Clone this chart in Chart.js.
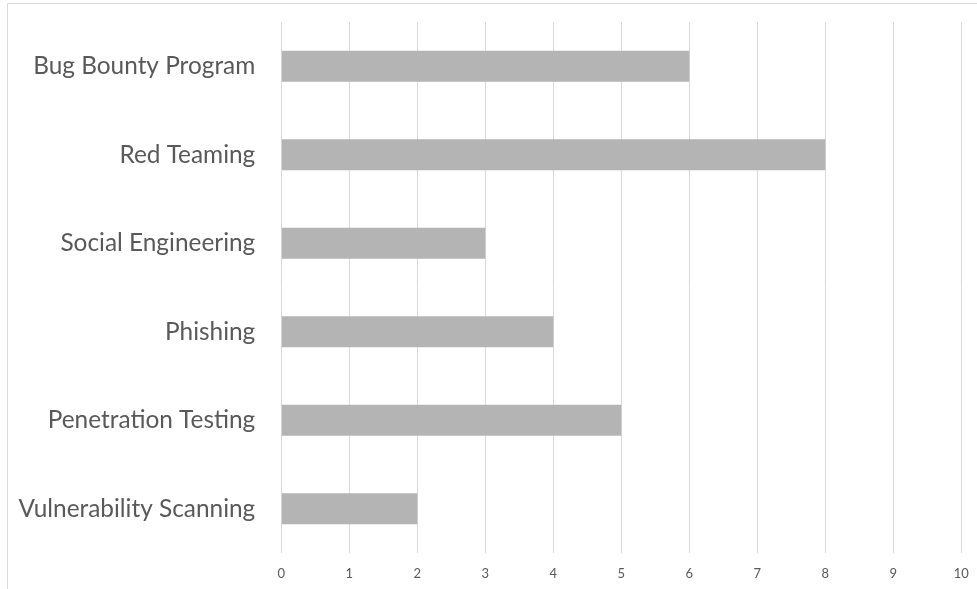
<!DOCTYPE html>
<html>
<head>
<meta charset="utf-8">
<script src="https://cdn.jsdelivr.net/npm/chart.js@4/dist/chart.umd.min.js"></script>
<style>
  html, body { margin: 0; padding: 0; background: #ffffff; }
  #wrap { position: relative; width: 977px; height: 589px; }
</style>
</head>
<body>
<div id="wrap"><canvas id="chart" width="977" height="589"></canvas></div>
<script>
// Security testing activities and their counts
const categories = [
  "Bug Bounty Program",
  "Red Teaming",
  "Social Engineering",
  "Phishing",
  "Penetration Testing",
  "Vulnerability Scanning"
];
const counts = [6, 8, 3, 4, 5, 2];
const axisMin = 0;
const axisMax = 10;
const axisStep = 1;

// Thin frame along the top and left edge of the chart area
const framePlugin = {
  id: 'frame',
  beforeDraw(chart) {
    const ctx = chart.ctx;
    ctx.save();
    ctx.strokeStyle = '#d9d9d9';
    ctx.lineWidth = 1;
    ctx.beginPath();
    ctx.moveTo(7.5, chart.height);
    ctx.lineTo(7.5, 3.5);
    ctx.lineTo(chart.width, 3.5);
    ctx.stroke();
    ctx.restore();
  }
};

new Chart(document.getElementById('chart'), {
  type: 'bar',
  data: {
    labels: categories,
    datasets: [{
      data: counts,
      backgroundColor: '#b4b4b4',
      borderWidth: 0,
      categoryPercentage: 1,
      barPercentage: 0.35
    }]
  },
  options: {
    indexAxis: 'y',
    responsive: false,
    animation: false,
    layout: { padding: { left: 0, right: 15.7, top: 22, bottom: 0 } },
    plugins: {
      legend: { display: false },
      tooltip: { enabled: false }
    },
    scales: {
      x: {
        min: axisMin,
        max: axisMax,
        border: { display: false },
        grid: { color: '#d9d9d9', lineWidth: 1, drawTicks: false },
        ticks: {
          stepSize: axisStep,
          color: '#595959',
          padding: 13,
          font: { family: 'Lato, sans-serif', size: 13 }
        },
        afterFit(scale) {
          scale.height = 36;
          scale.paddingLeft = 0;
          scale.paddingRight = 0;
        }
      },
      y: {
        border: { display: false },
        grid: { display: false, drawTicks: false },
        ticks: {
          color: '#595959',
          padding: 26,
          font: { family: 'Lato, sans-serif', size: 24.4 }
        },
        afterFit(scale) {
          scale.width = 281.3;
          scale.paddingTop = 0;
          scale.paddingBottom = 0;
        }
      }
    }
  },
  plugins: [framePlugin]
});
</script>
</body>
</html>
